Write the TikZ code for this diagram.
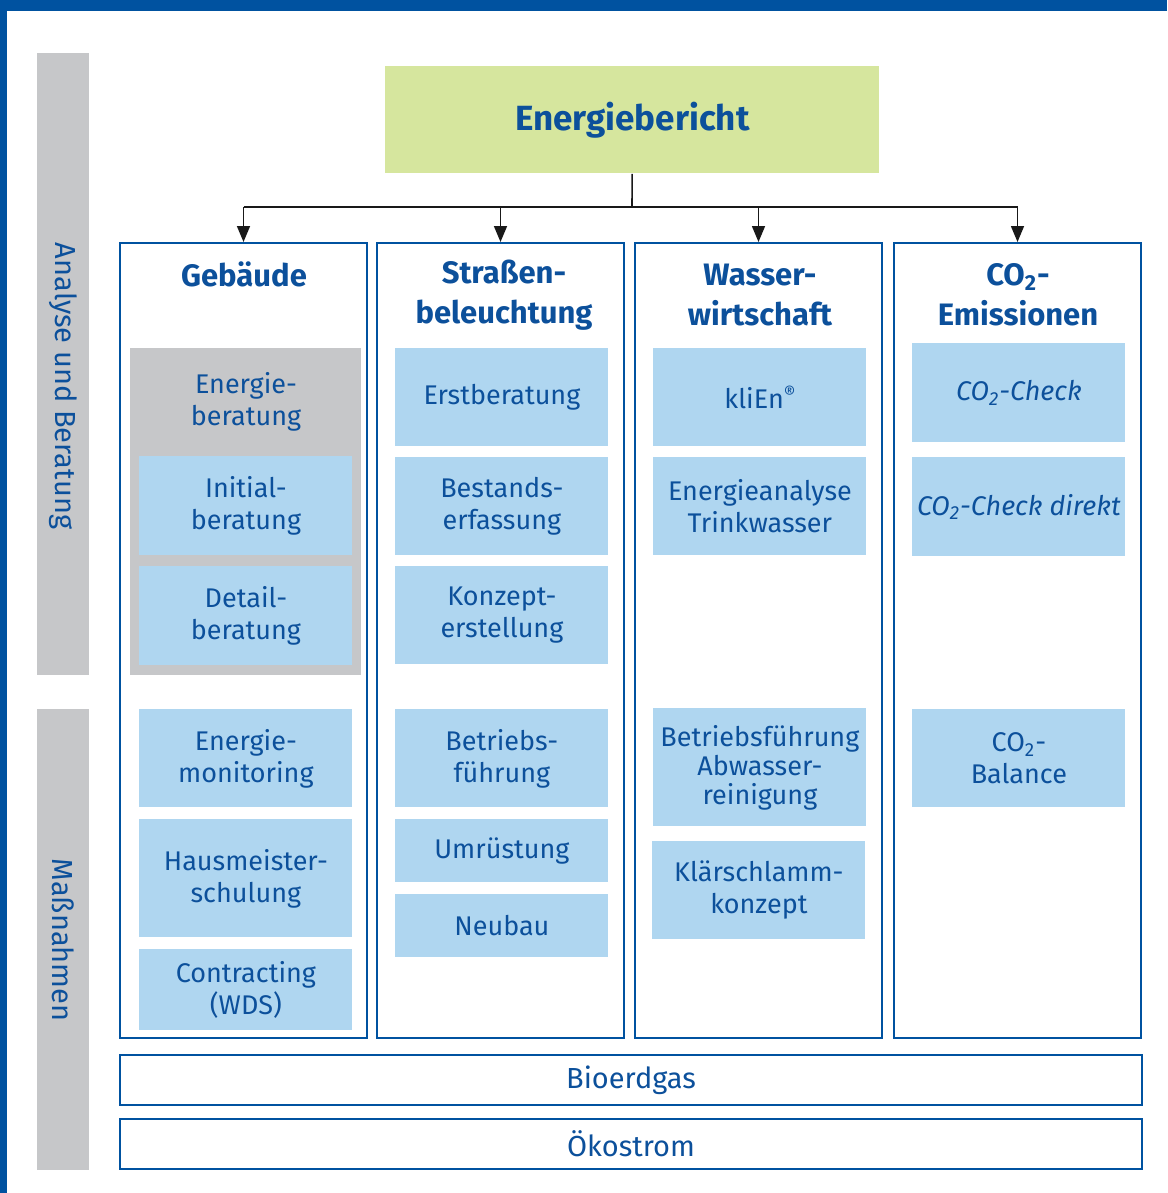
\documentclass[tikz,border=0pt]{standalone}
\usepackage{fontspec}
\setmainfont{Fira Sans}
\usepackage{tikz}
\usetikzlibrary{arrows.meta}
\definecolor{bandblue}{RGB}{0,82,160}
\definecolor{textblue}{RGB}{12,80,155}
\definecolor{boxblue}{RGB}{175,214,240}
\definecolor{headgreen}{RGB}{214,230,158}
\definecolor{sidegray}{RGB}{198,199,201}
\newcommand{\itemfont}{\fontsize{13.5}{16}\selectfont}
\tikzstyle{colbox} = [draw=bandblue, line width=1pt, inner sep=0pt,
   minimum width=123.5pt, minimum height=397.5pt, anchor=north west]
\tikzstyle{item} = [fill=boxblue, text=textblue, inner sep=0pt, align=center,
   minimum width=106.5pt, anchor=north west, font=\itemfont]
\tikzstyle{head} = [text=textblue, align=center,
   font=\bfseries\fontsize{15.5}{20}\selectfont]
\tikzstyle{side} = [fill=sidegray, inner sep=0pt, minimum width=26pt, anchor=north west]
\tikzstyle{sidetext} = [text=textblue, rotate=-90, font=\fontsize{14.5}{16}\selectfont]
\tikzstyle{strip} = [draw=bandblue, line width=1pt, text=textblue, inner sep=0pt,
   minimum width=511pt, minimum height=25pt, anchor=north west,
   font=\fontsize{14.5}{16}\selectfont]
\tikzstyle{link} = [line width=0.8pt, black!90]

\begin{document}
\begin{tikzpicture}[x=0.5pt, y=-0.5pt]
    \useasboundingbox (0,0) rectangle (1167,1193);
    \fill[bandblue] (0,0) rectangle (1167,11);
    \fill[bandblue] (0,0) rectangle (7,1193);
    % side bars
    \node[side, minimum height=311pt] (sidetop) at (37,53) {};
    \node[sidetext] (analyse) at (63,386) {Analyse und Beratung};
    \node[side, minimum height=230.5pt] (sidebot) at (37,709) {};
    \node[sidetext] (massnahmen) at (63,940) {Maßnahmen};
    % top and columns
    \node[fill=headgreen, text=textblue, minimum width=247pt, minimum height=53.5pt,
       anchor=north west, font=\bfseries\fontsize{17.5}{20}\selectfont] (bericht) at (385,66) {Energiebericht};
    \node[colbox] (gebaeude) at (119,242) {};
    \node[colbox] (strasse) at (376,242) {};
    \node[colbox] (wasser) at (634,242) {};
    \node[colbox] (co2) at (893,242) {};
    \node[head] (hgeb) at (244,274) {Gebäude};
    \node[head] (hstr) at (504,295) {Straßen-\\beleuchtung};
    \node[head] (hwas) at (760,295) {Wasser-\\wirtschaft};
    \node[head] (hco) at (1018,295) {CO\textsubscript{2}-\\Emissionen};
    % Gebaeude
    \node[side, minimum width=115.5pt, minimum height=163.5pt] (beratung) at (130,348) {};
    \node[text=textblue, align=center, font=\itemfont] (beratungtxt) at (246,402) {Energie-\\beratung};
    \node[item, minimum height=49.5pt] (initial) at (139,456) {Initial-\\beratung};
    \node[item, minimum height=49.5pt] (detail) at (139,566) {Detail-\\beratung};
    \node[item, minimum height=49pt] (monitoring) at (139,709) {Energie-\\monitoring};
    \node[item, minimum height=59pt] (hausmeister) at (139,819) {Hausmeister-\\schulung};
    \node[item, minimum height=40.5pt] (contracting) at (139,949) {Contracting\\(WDS)};
    % Strassenbeleuchtung
    \node[item, minimum height=49pt] (erst) at (395,348) {Erstberatung};
    \node[item, minimum height=49pt] (bestand) at (395,457) {Bestands-\\erfassung};
    \node[item, minimum height=49pt] (konzept) at (395,566) {Konzept-\\erstellung};
    \node[item, minimum height=49pt] (betrieb) at (395,709) {Betriebs-\\führung};
    \node[item, minimum height=31.5pt] (umruestung) at (395,819) {Umrüstung};
    \node[item, minimum height=31.5pt] (neubau) at (395,894) {Neubau};
    % Wasserwirtschaft
    \node[item, minimum height=49pt] (klien) at (653,348) {kliEn\raisebox{0.7ex}{\fontsize{9}{9}\selectfont®}};
    \node[item, minimum height=49pt] (trink) at (653,457) {Energieanalyse\\Trinkwasser};
    \node[item, minimum height=59pt, font=\fontsize{13.5}{14.5}\selectfont] (abwasser) at (653,708) {Betriebsführung\\Abwasser-\\reinigung};
    \node[item, minimum height=49pt] (klaer) at (652,841) {Klärschlamm-\\konzept};
    % CO2
    \node[item, minimum height=49.5pt, font=\itemfont\itshape] (check) at (912,343) {CO\textsubscript{2}-Check};
    \node[item, minimum height=49.5pt, font=\itemfont\itshape] (direkt) at (912,457) {CO\textsubscript{2}-Check direkt};
    \node[item, minimum height=49pt] (balance) at (912,709) {CO\textsubscript{2}-\\Balance};
    % strips
    \node[strip] (bioerdgas) at (119,1054) {Bioerdgas};
    \node[strip] (oekostrom) at (119,1118) {Ökostrom};
    % connectors
    \coordinate (bus) at (632,207);
    \draw[link] (bericht) -- (bus);
    \draw[link] (bus -| gebaeude.north) -- (bus -| co2.north);
    \foreach \c in {gebaeude,strasse,wasser,co2}
      \draw[link, -{Triangle[length=8pt, width=6.5pt]}] (bus -| \c.north) -- (\c.north);
\end{tikzpicture}
\end{document}
